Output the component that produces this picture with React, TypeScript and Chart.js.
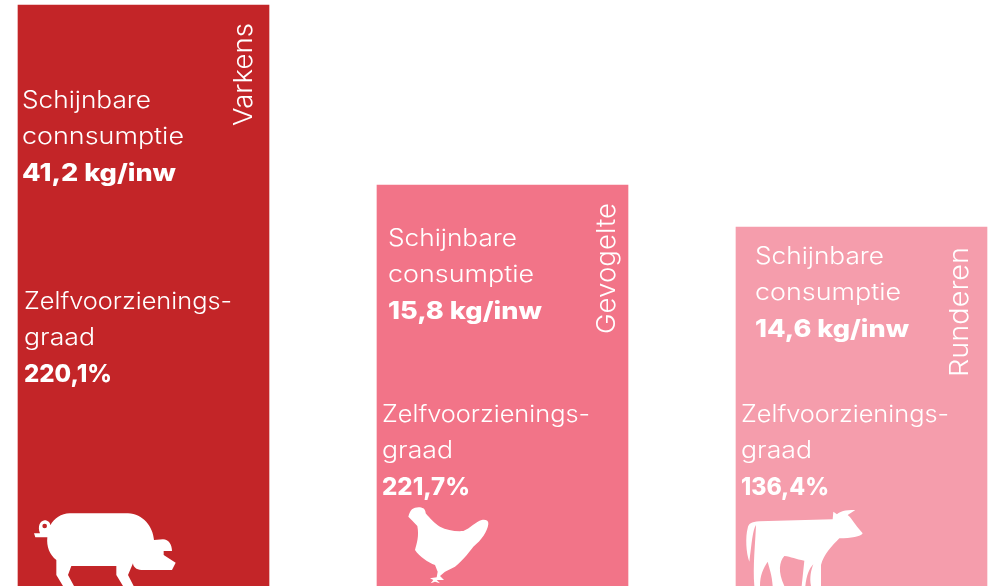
import React, { useEffect, useRef } from "react";
import { Chart, registerables } from "chart.js";

Chart.register(...registerables);

const categories = ["Varkens", "Gevogelte", "Runderen"];
const barHeights = [581, 401, 359];
const consumptionLine2 = ["connsumptie", "consumptie", "consumptie"];
const consumptionValues = ["41,2 kg/inw", "15,8 kg/inw", "14,6 kg/inw"];
const selfSufficiencyValues = ["220,1%", "221,7%", "136,4%"];
const barColors = ["#C32528", "#F27488", "#F59DAC"];

const FONT = "Inter, 'Open Sans', sans-serif";

// layout of the annotations, relative to each bar's left edge / canvas top
const textLayout = [
  { cx: 4, cy: 108, zx: 6, zy: 309, rx: 233.5, ry: 126, rw: 103 },
  { cx: 11, cy: 246, zx: 5, zy: 422, rx: 238, ry: 334, rw: 131 },
  { cx: 19, cy: 264, zx: 5, zy: 422, rx: 232, ry: 377, rw: 130 },
];

const PIG =
  "M48 100 L66 100 C58 80 66 62 80 61 C90 61 97 68 97 76 C108 55 130 40 155 40 L330 40 C375 42 405 80 408 120 L435 118 C452 118 462 135 462 153 L437 153 L437 165 L473 188 L462 210 L370 210 C355 210 345 200 345 190 L330 225 L347 258 L315 258 L295 225 L295 198 L160 198 L150 225 L168 258 L135 258 L115 225 L115 180 C95 165 85 140 88 112 L52 112 Z M80 71 A7 7 0 1 0 80 85 A7 7 0 1 0 80 71 Z";
const HEN =
  "M55 50 C58 40 60 34 66 28 C75 20 92 20 100 25 C106 30 107 36 107 40 C120 55 135 72 150 80 C170 90 195 95 220 93 C240 85 258 65 275 60 C288 58 296 62 295 72 C292 95 275 120 250 140 C238 155 225 175 195 200 L165 215 L150 228 L162 240 L140 240 L150 250 L135 245 L122 250 L130 240 L120 235 L140 232 L143 215 L135 195 C115 188 88 170 75 150 C80 130 88 110 82 78 L67 62 Z";
const COW =
  "M40 185 C30 160 28 110 35 85 C38 70 45 66 70 64 L290 58 L292 35 L303 43 C312 34 325 30 358 30 L335 45 C348 55 352 68 380 100 C375 110 345 115 310 115 C290 135 262 165 255 195 L255 258 L225 258 C220 235 225 210 232 193 C220 205 212 225 208 258 L197 258 L205 182 C180 178 165 170 145 168 C130 185 125 215 145 258 L110 258 C108 225 100 205 95 185 C82 205 72 225 72 258 L55 258 C50 200 58 130 60 75 C50 90 47 130 40 185 Z";
const icons = [
  { path: PIG, dx: 0, top: 500 },
  { path: HEN, dx: 13, top: 500 },
  { path: COW, dx: 0, top: 500 },
];

// Draws text stretched horizontally to the width measured in the reference.
function fitted(ctx: CanvasRenderingContext2D, text: string, x: number, y: number, w: number) {
  const natural = ctx.measureText(text).width;
  ctx.save();
  ctx.translate(x, y);
  ctx.scale(w / natural, 1);
  ctx.fillText(text, 0, 0);
  ctx.restore();
}

const annotationPlugin = {
  id: "annotations",
  afterDatasetsDraw(chart: any) {
    const { ctx } = chart;
    const bars = chart.getDatasetMeta(0).data;
    ctx.save();
    ctx.fillStyle = "#ffffff";
    ctx.textBaseline = "alphabetic";
    ctx.textAlign = "left";
    bars.forEach((bar: any, i: number) => {
      const left = bar.x - bar.width / 2;
      const t = textLayout[i];
      ctx.font = `300 23.5px ${FONT}`;
      fitted(ctx, "Schijnbare", left + t.cx, t.cy, 129);
      fitted(ctx, consumptionLine2[i], left + t.cx, t.cy + 36, i === 0 ? 162 : 146);
      fitted(ctx, "Zelfvoorzienings-", left + t.zx, t.zy, 208);
      fitted(ctx, "graad", left + t.zx, t.zy + 36, 71);
      ctx.font = `800 24px ${FONT}`;
      fitted(ctx, consumptionValues[i], left + t.cx, t.cy + 73, 154);
      fitted(ctx, selfSufficiencyValues[i], left + t.zx, t.zy + 73, 88);

      ctx.save();
      ctx.translate(left + t.rx, t.ry);
      ctx.rotate(-Math.PI / 2);
      ctx.font = `300 26px ${FONT}`;
      fitted(ctx, categories[i], 0, 0, t.rw);
      ctx.restore();

      const icon = icons[i];
      ctx.save();
      ctx.translate(left + icon.dx, icon.top);
      ctx.scale(1 / 3, 1 / 3);
      ctx.fill(new Path2D(icon.path), "evenodd");
      ctx.restore();
    });
    ctx.restore();
  },
};

export default function App() {
  const ref = useRef<HTMLCanvasElement>(null);
  useEffect(() => {
    const chart = new Chart(ref.current!, {
      type: "bar",
      data: {
        labels: categories,
        datasets: [
          {
            data: barHeights.map((h, i) => ({ x: i, y: h })),
            backgroundColor: barColors,
            barThickness: 251,
            borderWidth: 0,
          },
        ],
      },
      options: {
        animation: false,
        responsive: false,
        layout: { padding: 0 },
        plugins: { legend: { display: false }, tooltip: { enabled: false } },
        scales: {
          x: { type: "linear", display: false, offset: false, min: -143.5 / 359, max: (995 - 143.5) / 359 },
          y: { display: false, min: 0, max: 586 },
        },
      },
      plugins: [annotationPlugin],
    } as any);
    return () => chart.destroy();
  }, []);
  return (
    <canvas
      ref={ref}
      width={995}
      height={586}
      style={{ position: "absolute", left: 0, top: 0, width: 995, height: 586 }}
    />
  );
}
